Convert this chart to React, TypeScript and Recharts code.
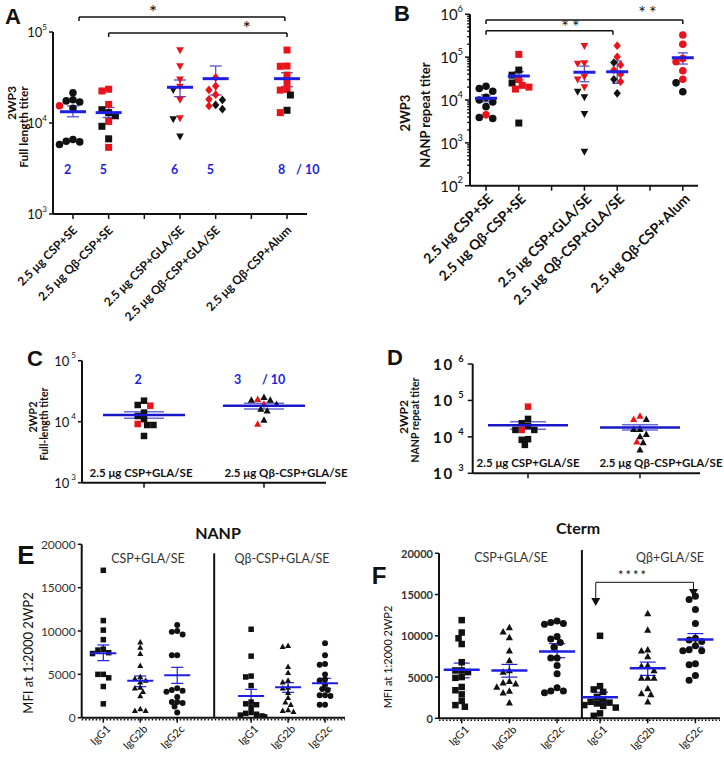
import React from "react";
import { ScatterChart, Scatter, XAxis, YAxis, ErrorBar, ReferenceLine, ReferenceDot } from "recharts";

const RED = "#e8131b";
const INK = "#111";
const BLUE = "#1e1ee0";
const BLUE2 = "#5252cc";
const FONT = "Lato, 'Open Sans', sans-serif";
const HEAD = "'Liberation Sans', Arial, sans-serif";

// A / B: 2WP3 titers, five vaccine groups on a 7-slot axis
const abGroups = ["2.5 μg CSP+SE", "2.5 μg Qβ-CSP+SE", "2.5 μg CSP+GLA/SE", "2.5 μg Qβ-CSP+GLA/SE", "2.5 μg Qβ-CSP+Alum"];
const abPos = [0, 1, 3, 4, 6];
const abSlots = [0, 1, 2, 3, 4, 5, 6];

const aRed = [[15500], [23500, 22500, 16000, 10400, 5400], [63000, 42000, 30000, 25000, 18000, 11300], [31700, 25500, 23100, 20500, 18200, 15400], [63400, 42300, 42000, 33600, 27700, 23400, 23000, 13000]];
const aBlack = [[21500, 18000, 17500, 17000, 14500, 6600, 6300, 6200, 5800], [14000, 13000, 12000, 9200, 6700], [23000, 11000, 7100], [17900, 15800, 14200], [20300, 13800]];
const aMean = [13300, 13000, 24700, 30700, 30700];
const aLo = [11700, 11500, 19500, 20300, 25000];
const aHi = [15400, 14800, 29700, 42300, 35700];
const aCounts = ["2", "5", "6", "5", "8"];

const bRed = [[4500], [116000, 30000, 22000, 20000, 18000], [182000, 72000, 70000, 35000, 30000, 20000], [185000, 102000, 65600, 50000, 40000, 26700], [329000, 200000, 93000, 78000, 48300, 30400]];
const bBlack = [[21000, 18500, 16000, 11500, 10000, 9000, 7000, 3900, 3700], [50000, 38000, 25000, 2900], [15600, 11600, 4700, 620], [75000, 30400, 14300], [25100, 15600]];
const bMean = [11000, 36300, 44300, 45700, 97000];
const bLo = [9100, 29300, 26700, 24500, 69000];
const bHi = [13100, 45700, 61700, 81300, 126000];

// C / D: 2WP2 titers, two groups
const cdGroups = ["2.5 μg CSP+GLA/SE", "2.5 μg Qβ-CSP+GLA/SE"];
const cdPos = [0, 1];
const cRed = [[18300, 9170], [23300, 19500, 9170]];
const cBlack = [[22100, 18800, 14100, 12400, 11000, 8830, 8830, 5840], [25100, 22700, 22700, 19300, 16100, 15100, 10700]];
const cMean = [12900, 18300];
const cLo = [11400, 16100];
const cHi = [14600, 20000];

const dRed = [[67600, 15500], [37600, 30500, 7400]];
const dBlack = [[31100, 23700, 20000, 15500, 15500, 8650, 8300, 6030], [30500, 16300, 16300, 11900, 10300, 6970, 4400]];
const dMean = [20900, 18000];
const dLo = [16300, 15500];
const dHi = [26200, 21400];

// E / F: isotype MFI
const isotypes = ["IgG1", "IgG2b", "IgG2c", "IgG1", "IgG2b", "IgG2c"];
const ePos = [0, 1, 2, 4, 5, 6];
const eVals = [
  [17000, 11200, 10100, 9000, 7900, 7800, 7500, 7400, 5000, 5000, 4600, 3600, 1600],
  [8700, 8100, 7400, 6000, 4700, 4500, 4300, 4100, 3500, 3400, 3000, 2500, 1000, 800, 800],
  [10700, 10000, 9900, 9600, 7200, 7200, 3400, 3200, 3100, 3000, 2400, 1800, 1800, 1700, 1300, 600],
  [10200, 7100, 4800, 4700, 3700, 1800, 1600, 1500, 1200, 600, 500, 400, 300, 200, 100],
  [8300, 8200, 5900, 5200, 4300, 4100, 3500, 3400, 2900, 2300, 1800, 1500, 900, 800, 700],
  [8600, 7200, 6200, 6100, 5000, 4400, 4300, 3800, 3300, 3200, 2600, 2600, 2500, 1500, 1500],
];
const eMean = [7430, 4270, 4890, 2500, 3500, 3960];
const eLo = [6580, 3580, 3960, 1700, 2930, 3380];
const eHi = [8390, 4810, 5810, 3270, 4040, 4540];

const fPos = [0, 1, 2, 2.9, 3.9, 4.9];
const fVals = [
  [11900, 10400, 9700, 9000, 6800, 5800, 5800, 5600, 5000, 4900, 3800, 3400, 2900, 2100, 1600, 1400],
  [11000, 10500, 9800, 8200, 7000, 5800, 5600, 4500, 4300, 4200, 3800, 3300, 3100, 1900],
  [11800, 11600, 11500, 11400, 9900, 9600, 9200, 8600, 7300, 7300, 6400, 5400, 3700, 3300, 3300, 3100],
  [10000, 3900, 3500, 3200, 2600, 2300, 2000, 1900, 1800, 1600, 1500, 1300, 600, 300],
  [12700, 10700, 8300, 8200, 7500, 6400, 6300, 5800, 4900, 4900, 4900, 3600, 3000, 2900, 2000],
  [14800, 14400, 13200, 11500, 9700, 9500, 9300, 8800, 8300, 8200, 8200, 6600, 6500, 5200, 4600],
];
const fMean = [5890, 5800, 8110, 2560, 6080, 9540];
const fLo = [4910, 4990, 7350, 1950, 5200, 8640];
const fHi = [6690, 6530, 9050, 3160, 6810, 10270];

// simple beeswarm so points in a column spread sideways (pixel offsets, capped)
function swarm(vals: number[], toPx: (v: number) => number, step: number, cap: number) {
  const placed: [number, number][] = [];
  return vals.map((v) => {
    const py = toPx(v);
    let best = 0;
    for (let k = 0; k < 30; k++) {
      const off = (k % 2 ? -1 : 1) * Math.ceil(k / 2) * step * 0.45;
      if (Math.abs(off) > cap) break;
      best = off;
      if (placed.every(([qx, qy]) => Math.hypot(qx - off, qy - py) >= step * 0.85)) break;
    }
    placed.push([best, py]);
    return best;
  });
}

function build(pos: number[], red: number[][], black: number[][], marks: string[], toPx: (v: number) => number, ppu: number, step: number, cap: number) {
  const rows: any[] = [];
  pos.forEach((p, g) => {
    const all = [...red[g].map((v) => ({ v, r: 1 })), ...black[g].map((v) => ({ v, r: 0 }))].sort((a, b) => b.v - a.v);
    const offs = swarm(all.map((a) => a.v), toPx, step, cap);
    all.forEach((a, i) => rows.push({ x: p + offs[i] / ppu, y: a.v, red: a.r, m: marks[g] }));
  });
  return rows;
}

const means = (pos: number[], m: number[], lo: number[], hi: number[]) =>
  pos.map((p, i) => ({ x: p, y: m[i], err: [m[i] - lo[i], hi[i] - m[i]] }));

const none = (n: number) => Array.from({ length: n }, () => [] as number[]);

const aPts = build(abPos, aRed, aBlack, ["ci", "sq", "td", "di", "sq"], (v) => -Math.log10(v) * 91, 35.67, 7.5, 15);
const bPts = build(abPos, bRed, bBlack, ["ci", "sq", "td", "di", "ci"], (v) => -Math.log10(v) * 42.85, 32.8, 7.5, 14);
const cPts = build(cdPos, cRed, cBlack, ["sq", "tu"], (v) => -Math.log10(v) * 61, 120, 7, 30);
const dPts = build(cdPos, dRed, dBlack, ["sq", "tu"], (v) => -Math.log10(v) * 36.5, 112, 7, 30);
const ePts = build(ePos, none(6), eVals, ["sq", "tu", "ci", "sq", "tu", "ci"], (v) => (-v * 173.4) / 20000, 36.95, 6, 14);
const fPts = build(fPos, none(6), fVals, ["sq", "tu", "ci", "sq", "tu", "ci"], (v) => (-v * 165) / 20000, 47.7, 7, 17);

const Mark = (p: any) => {
  const { cx, cy, payload, s } = p;
  if (cx == null || cy == null) return null;
  const f = payload.red ? RED : INK;
  const h = s / 2;
  switch (payload.m) {
    case "sq":
      return <rect x={cx - h} y={cy - h} width={s} height={s} fill={f} />;
    case "tu":
      return <polygon points={`${cx},${cy - h * 1.15} ${cx - h * 1.1},${cy + h * 0.85} ${cx + h * 1.1},${cy + h * 0.85}`} fill={f} />;
    case "td":
      return <polygon points={`${cx},${cy + h * 1.15} ${cx - h * 1.1},${cy - h * 0.85} ${cx + h * 1.1},${cy - h * 0.85}`} fill={f} />;
    case "di":
      return <polygon points={`${cx},${cy - h * 1.25} ${cx + h * 1.05},${cy} ${cx},${cy + h * 1.25} ${cx - h * 1.05},${cy}`} fill={f} />;
    default:
      return <circle cx={cx} cy={cy} r={h * 1.08} fill={f} />;
  }
};

const MeanLine = (p: any) =>
  p.cx == null ? null : <line x1={p.cx - p.hw} x2={p.cx + p.hw} y1={p.cy} y2={p.cy} stroke={p.c} strokeWidth={p.sw} />;

const PowTick = (p: any) => {
  const { x, y, payload, fs, len, gap = 0, ls = 0, fw = 400 } = p;
  const e = Math.round(Math.log10(payload.value));
  const major = Math.abs(payload.value / 10 ** e - 1) < 1e-6;
  return (
    <g>
      <line x1={x - (major ? len : len * 0.55)} x2={x} y1={y} y2={y} stroke={INK} strokeWidth={1.5} />
      {major && (
        <text x={x - len - 2} y={y} textAnchor="end" dominantBaseline="central" fontSize={fs} fontFamily={FONT} fontWeight={fw} letterSpacing={ls} fill={INK}>
          10
          <tspan dx={gap} dy={-fs * 0.42} fontSize={fs * 0.62}>{e}</tspan>
        </text>
      )}
    </g>
  );
};

const LinTick = (p: any) => (
  <g>
    <line x1={p.x - 4} x2={p.x} y1={p.y} y2={p.y} stroke={INK} strokeWidth={1.5} />
    <text x={p.x - 6} y={p.y} textAnchor="end" dominantBaseline="central" fontSize={p.fs} fontFamily={FONT} fontWeight={p.fw || 400} fill="#333">
      {p.payload.value}
    </text>
  </g>
);

const RotTick = (p: any) => {
  const { x, y, payload, pos, labels, fs, dx, dy, fw = 400 } = p;
  const i = pos.indexOf(payload.value);
  return (
    <g>
      <line x1={x} x2={x} y1={y} y2={y + 5} stroke={INK} strokeWidth={1.5} />
      {i >= 0 && (
        <text transform={`translate(${x + dx},${y + dy}) rotate(-45)`} textAnchor="end" fontSize={fs} fontFamily={FONT} fontWeight={fw} fill={INK}>
          {labels[i]}
        </text>
      )}
    </g>
  );
};

const InTick = (p: any) => {
  const { x, y, payload, labels, fs, shift } = p;
  const i = payload.value;
  return (
    <g>
      <line x1={x} x2={x} y1={y} y2={y + 5} stroke={INK} strokeWidth={1.5} />
      <text x={x + shift[i]} y={y - 6} textAnchor="middle" fontSize={fs} fontFamily={FONT} fontWeight={700} fill={INK}>
        {labels[i]}
      </text>
    </g>
  );
};

function Panel(p: any) {
  return (
    <div style={{ position: "absolute", left: p.left, top: p.top }}>
      <ScatterChart width={p.w} height={p.h} margin={{ top: p.mt, right: p.mr, bottom: 0, left: 0 }}>
        <XAxis type="number" dataKey="x" domain={p.xd} ticks={p.xt} interval={0} allowDataOverflow height={p.xh} tickSize={0} tickMargin={0} tickLine={false} tick={p.xtick} axisLine={{ stroke: INK, strokeWidth: 2 }} />
        <YAxis type="number" dataKey="y" scale={p.log ? "log" : "linear"} domain={p.yd} ticks={p.yt} interval={0} allowDataOverflow width={p.yw} tickSize={0} tickMargin={0} tickLine={false} tick={p.ytick} axisLine={{ stroke: INK, strokeWidth: 2 }} />
        {p.extra}
        <Scatter data={p.pts} shape={p.mark} isAnimationActive={false} />
        <Scatter data={p.means} shape={p.mean} isAnimationActive={false}>
          <ErrorBar dataKey="err" direction="y" width={p.cap} stroke={p.semC} strokeWidth={p.semW} />
        </Scatter>
      </ScatterChart>
    </div>
  );
}

const seg = (x1: number, y1: number, x2: number, y2: number, k: string, w = 1.5, dash?: string) => (
  <ReferenceLine key={k} segment={[{ x: x1, y: y1 }, { x: x2, y: y2 }]} stroke={INK} strokeWidth={w} strokeDasharray={dash} ifOverflow="visible" />
);

const note = (x: number, y: number, v: string, k: string, fill = INK, fs = 16, fw = 400, ls = 0) => (
  <ReferenceDot key={k} x={x} y={y} r={0} fill="none" stroke="none" ifOverflow="visible"
    label={{ value: v, position: "center", fill, fontSize: fs, fontWeight: fw, fontFamily: FONT, letterSpacing: ls }} />
);

const arrowHead = (x: number, y: number, k: string) => (
  <ReferenceDot key={k} x={x} y={y} r={4} ifOverflow="visible"
    shape={(q: any) => <polygon points={`${q.cx - 4.5},${q.cy - 4} ${q.cx + 4.5},${q.cy - 4} ${q.cx},${q.cy + 4}`} fill={INK} />} />
);

const bracket = (x1: number, x2: number, y: number, yEnd: number, k: string) => [
  seg(x1, y, x2, y, k + "h"),
  seg(x1, y, x1, yEnd, k + "l"),
  seg(x2, y, x2, yEnd, k + "r"),
];

const Txt = (p: any) => (
  <text x={p.x} y={p.y} fontSize={p.s} fontWeight={p.w || 400} textAnchor="middle" dominantBaseline="central"
    fill={p.fill || INK} fontFamily={p.ff || FONT} transform={p.rot ? `rotate(-90 ${p.x} ${p.y})` : undefined}>
    {p.children}
  </text>
);

export default function App() {
  const aExtra = [
    ...bracket(0.17, 5.94, 146200, 132000, "a1"),
    ...bracket(1.0, 6.0, 97500, 88100, "a2"),
    note(2.24, 168000, "*", "as1", INK, 20),
    note(4.87, 112000, "*", "as2", INK, 20),
    ...abPos.map((p, i) => note(p - 0.15, 3050, aCounts[i], "ac" + i, BLUE, 12.5, 700)),
    note(6.58, 3050, "/ 10", "ac10", BLUE, 12.5, 700),
  ];
  const bExtra = [
    ...bracket(0, 6.0, 736000, 593000, "b1"),
    ...bracket(0, 3.87, 414000, 334000, "b2"),
    note(4.97, 1080000, "**", "bs1", INK, 18, 400, 3),
    note(2.62, 510000, "**", "bs2", INK, 18, 400, 3),
  ];
  const cExtra = [
    note(-0.05, 48300, "2", "c2", BLUE, 12.5, 700),
    note(0.78, 48300, "3", "c3", BLUE, 12.5, 700),
    note(1.08, 48300, "/ 10", "c10", BLUE, 12.5, 700),
  ];
  const eExtra = [
    seg(3, 0, 3, 18960, "ediv", 2),
    seg(-0.585, -230, 6.54, -230, "edot", 1.5, "1.5 2"),
  ];
  const fExtra = [
    seg(2.52, 0, 2.52, 20400, "fdiv", 2),
    seg(-0.476, -242, 5.415, -242, "fdot", 1.5, "1.5 2"),
    seg(2.81, 16485, 4.86, 16485, "fa1", 1),
    seg(2.81, 16485, 2.81, 14545, "fa2", 1),
    seg(4.86, 16485, 4.86, 15550, "fa3", 1),
    arrowHead(2.81, 14100, "fh1"),
    arrowHead(4.86, 15200, "fh2"),
    note(3.59, 17370, "****", "fs", INK, 13, 400, 2),
  ];

  return (
    <div style={{ position: "absolute", left: 0, top: 0, width: 724, height: 758, background: "#fff", overflow: "hidden" }}>
      <Panel left={0} top={0} w={330} h={345} mt={32} mr={23} yw={53} xh={131}
        xd={[-0.56, 6.56]} xt={abSlots} xtick={<RotTick pos={abPos} labels={abGroups} fs={12} dx={5} dy={17} fw={700} />}
        log yd={[1e3, 1e5]} yt={[1e3, 1e4, 1e5]} ytick={<PowTick fs={13} len={4} />}
        pts={aPts} mark={<Mark s={7} />} means={means(abPos, aMean, aLo, aHi)} mean={<MeanLine hw={13} c={BLUE} sw={3} />}
        cap={6} semC={BLUE2} semW={1.3} extra={aExtra} />

      <Panel left={360} top={0} w={364} h={335} mt={14.3} mr={26} yw={110} xh={149.3}
        xd={[-0.488, 6.463]} xt={abSlots} xtick={<RotTick pos={abPos} labels={abGroups} fs={14} dx={8} dy={14} fw={700} />}
        log yd={[1e2, 1e6]} yt={[100, 200, 300, 400, 500, 600, 700, 800, 900, 1e3, 2e3, 3e3, 4e3, 5e3, 6e3, 7e3, 8e3, 9e3, 1e4, 2e4, 3e4, 4e4, 5e4, 6e4, 7e4, 8e4, 9e4, 1e5, 2e5, 3e5, 4e5, 5e5, 6e5, 7e5, 8e5, 9e5, 1e6]}
        ytick={<PowTick fs={15} len={5} />}
        pts={bPts} mark={<Mark s={7} />} means={means(abPos, bMean, bLo, bHi)} mean={<MeanLine hw={11} c={BLUE} sw={3} />}
        cap={5} semC={BLUE2} semW={1.3} extra={bExtra} />

      <Panel left={0} top={340} w={360} h={158} mt={20.7} mr={34} yw={82} xh={15.3}
        xd={[-0.517, 1.517]} xt={cdPos} xtick={<InTick labels={cdGroups} fs={11.5} shift={[-3, 22]} />}
        log yd={[1e3, 1e5]} yt={[1e3, 1e4, 1e5]} ytick={<PowTick fs={13} len={4} gap={2} />}
        pts={cPts} mark={<Mark s={6.5} />} means={means(cdPos, cMean, cLo, cHi)} mean={<MeanLine hw={41} c="#1818c8" sw={2.5} />}
        cap={20} semC="#6a6ad8" semW={1.5} extra={cExtra} />

      <Panel left={360} top={340} w={364} h={150} mt={24} mr={24} yw={112.7} xh={16.7}
        xd={[-0.494, 1.536]} xt={cdPos} xtick={<InTick labels={cdGroups} fs={11.5} shift={[0, 21]} />}
        log yd={[1e3, 1e6]} yt={[1e3, 1e4, 1e5, 1e6]} ytick={<PowTick fs={15} len={5} gap={4} ls={2} fw={700} />}
        pts={dPts} mark={<Mark s={6.5} />} means={means(cdPos, dMean, dLo, dHi)} mean={<MeanLine hw={40} c="#1818c8" sw={2.5} />}
        cap={18} semC="#6a6ad8" semW={1.5} extra={[]} />

      <Panel left={0} top={530} w={360} h={228} mt={14.3} mr={15} yw={81.7} xh={40.3}
        xd={[-0.585, 6.54]} xt={ePos} xtick={<RotTick pos={ePos} labels={isotypes} fs={11} dx={8} dy={12} />}
        yd={[0, 20000]} yt={[0, 5000, 10000, 15000, 20000]} ytick={<LinTick fs={12} />}
        pts={ePts} mark={<Mark s={5.5} />} means={means(ePos, eMean, eLo, eHi)} mean={<MeanLine hw={13} c={BLUE} sw={2} />}
        cap={6} semC={BLUE} semW={1.2} extra={eExtra} />

      <Panel left={360} top={530} w={364} h={228} mt={23.3} mr={4} yw={79} xh={39.7}
        xd={[-0.476, 5.415]} xt={fPos} xtick={<RotTick pos={fPos} labels={isotypes} fs={11} dx={8} dy={12} />}
        yd={[0, 20000]} yt={[0, 5000, 10000, 15000, 20000]} ytick={<LinTick fs={11} fw={700} />}
        pts={fPts} mark={<Mark s={6.5} />} means={means(fPos, fMean, fLo, fHi)} mean={<MeanLine hw={18} c={BLUE} sw={2.5} />}
        cap={8} semC={BLUE} semW={1.2} extra={fExtra} />

      <svg width={724} height={758} style={{ position: "absolute", left: 0, top: 0, pointerEvents: "none" }}>
        <Txt x={13} y={16} s={22} w={700} ff={HEAD}>A</Txt>
        <Txt x={402} y={13} s={22} w={700} ff={HEAD}>B</Txt>
        <Txt x={35} y={358} s={22} w={700} ff={HEAD}>C</Txt>
        <Txt x={395} y={357} s={22} w={700} ff={HEAD}>D</Txt>
        <Txt x={26} y={555} s={26} w={700} ff={HEAD}>E</Txt>
        <Txt x={379} y={575} s={24} w={700} ff={HEAD}>F</Txt>

        <Txt x={11} y={103} s={12} w={700} rot>2WP3</Txt>
        <Txt x={23} y={127} s={12} w={700} rot>Full length titer</Txt>
        <Txt x={405} y={113} s={13} w={700} rot>2WP3</Txt>
        <Txt x={425} y={115} s={13} w={700} rot>NANP repeat titer</Txt>
        <Txt x={32} y={417} s={11} w={700} rot>2WP2</Txt>
        <Txt x={44} y={424} s={10.5} w={700} rot>Full-length titer</Txt>
        <Txt x={403} y={417} s={12} w={700} rot>2WP2</Txt>
        <Txt x={415} y={420} s={10.5} w={700} rot>NANP repeat titer</Txt>
        <Txt x={28} y={653} s={13} rot>MFI  at 1:2000 2WP2</Txt>
        <Txt x={387} y={657} s={11} rot>MFI at 1:2000 2WP2</Txt>

        <Txt x={218} y={532} s={16} w={700}>NANP</Txt>
        <Txt x={578} y={527} s={16} w={700}>Cterm</Txt>
        <Txt x={148} y={558} s={12.5} fill="#333">CSP+GLA/SE</Txt>
        <Txt x={282} y={558} s={12.5} fill="#333">Qβ-CSP+GLA/SE</Txt>
        <Txt x={511} y={557} s={12.5} fill="#333">CSP+GLA/SE</Txt>
        <Txt x={670} y={557} s={12.5} fill="#333">Qβ+GLA/SE</Txt>
      </svg>
    </div>
  );
}
